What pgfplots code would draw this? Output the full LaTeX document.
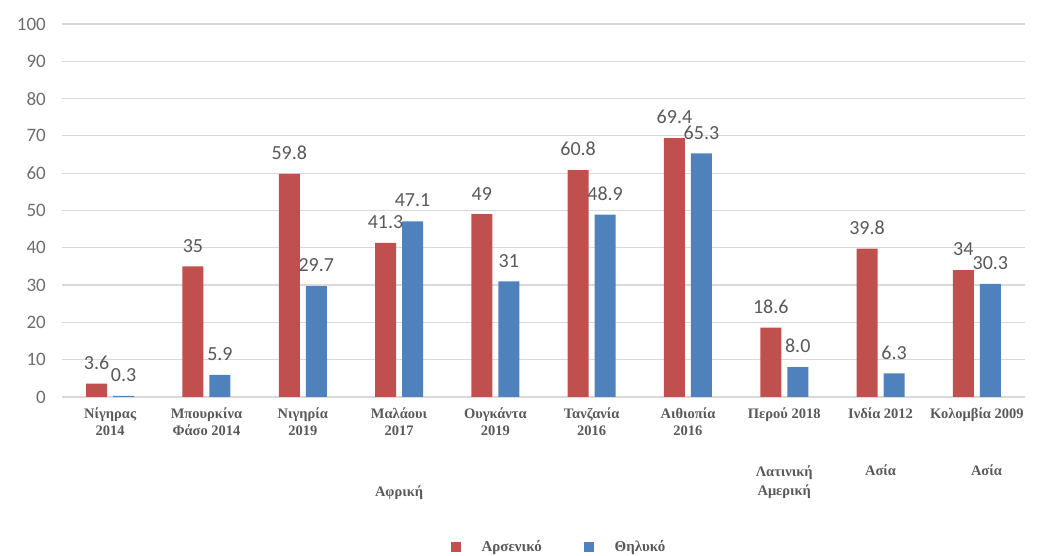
\documentclass[border=0pt]{standalone}
\usepackage{pgfplots}
\pgfplotsset{compat=1.18}
\usepackage{pgfplotstable}
\usepackage{fontspec}
\setmainfont{Liberation Serif}
\newfontfamily\calfont{Carlito}
\definecolor{cred}{RGB}{192,80,77}
\definecolor{cblue}{RGB}{79,129,189}
\definecolor{tgray}{RGB}{89,89,89}
\definecolor{kgray}{RGB}{110,110,110}
\definecolor{gridc}{RGB}{217,217,217}

\pgfplotstableread{
x m ml
0 3.6 3.6
1 35 35
2 59.8 59.8
3 41.3 41.3
4 49 49
5 60.8 60.8
6 69.4 69.4
7 18.6 18.6
8 39.8 39.8
9 34 34
}\male

\pgfplotstableread{
x f fl
0 0.3 0.3
1 5.9 5.9
2 29.7 29.7
3 47.1 47.1
4 31 31
5 48.9 48.9
6 65.3 65.3
7 8.0 8.0
8 6.3 6.3
9 30.3 30.3
}\female

\begin{document}
\begin{tikzpicture}
\path[use as bounding box] (0,0) rectangle (1043pt,556pt);
\begin{axis}[
  at={(62pt,159pt)}, anchor=south west,
  scale only axis, width=963pt, height=373pt,
  xmin=-0.5, xmax=9.5, ymin=0, ymax=100,
  ytick={0,10,...,100},
  xtick={0,...,9},
  xticklabels={{Νίγηρας\\2014},{Μπουρκίνα\\Φάσο 2014},{Νιγηρία\\2019},{Μαλάουι\\2017},{Ουγκάντα\\2019},{Τανζανία\\2016},{Αιθιοπία\\2016},{Περού 2018},{Ινδία 2012},{Κολομβία 2009}},
  major tick length=0pt,
  axis line style={draw=none},
  ymajorgrids, major grid style={draw=gridc, line width=1.2pt},
  /pgf/number format/assume math mode=true,
  y tick label style={font=\calfont\fontsize{19}{19}\selectfont, text=kgray, inner sep=0pt, xshift=-16pt},
  x tick label style={font=\bfseries\fontsize{14.5}{17}\selectfont, text=tgray, align=center, inner sep=0pt, yshift=-11pt},
  ybar=6pt, bar width=21pt,
  clip=false,
  nodes near coords,
  point meta=explicit symbolic,
  every node near coord/.append style={font=\calfont\fontsize{20}{20}\selectfont, text=tgray, anchor=south, inner sep=0pt, yshift=14pt},
  legend columns=2,
  legend image code/.code={\fill[#1] (0pt,-5pt) rectangle (10pt,5pt);},
  legend style={draw=none, fill=none, at={(0.516,-0.402)}, anchor=center,
    font=\bfseries\fontsize{15}{17}\selectfont, text=tgray,
    /tikz/every odd column/.append style={column sep=19pt},
    /tikz/every even column/.append style={column sep=40pt}},
]
\addplot[fill=cred, draw=none] table[x=x, y=m, meta=ml]{\male};
\addplot[fill=cblue, draw=none] table[x=x, y=f, meta=fl]{\female};
\legend{Αρσενικό, Θηλυκό}
\node[font=\bfseries\fontsize{14.5}{17}\selectfont, text=tgray, align=center, yshift=-96pt] at (axis cs:3,0) {Αφρική};
\node[font=\bfseries\fontsize{14.5}{19}\selectfont, text=tgray, align=center, yshift=-85.5pt] at (axis cs:7,0) {Λατινική\\Αμερική};
\node[font=\bfseries\fontsize{14.5}{17}\selectfont, text=tgray, align=center, yshift=-73pt] at (axis cs:8,0) {Ασία};
\node[font=\bfseries\fontsize{14.5}{17}\selectfont, text=tgray, align=center, yshift=-73pt] at (axis cs:9.1,0) {Ασία};
\end{axis}
\end{tikzpicture}
\end{document}
